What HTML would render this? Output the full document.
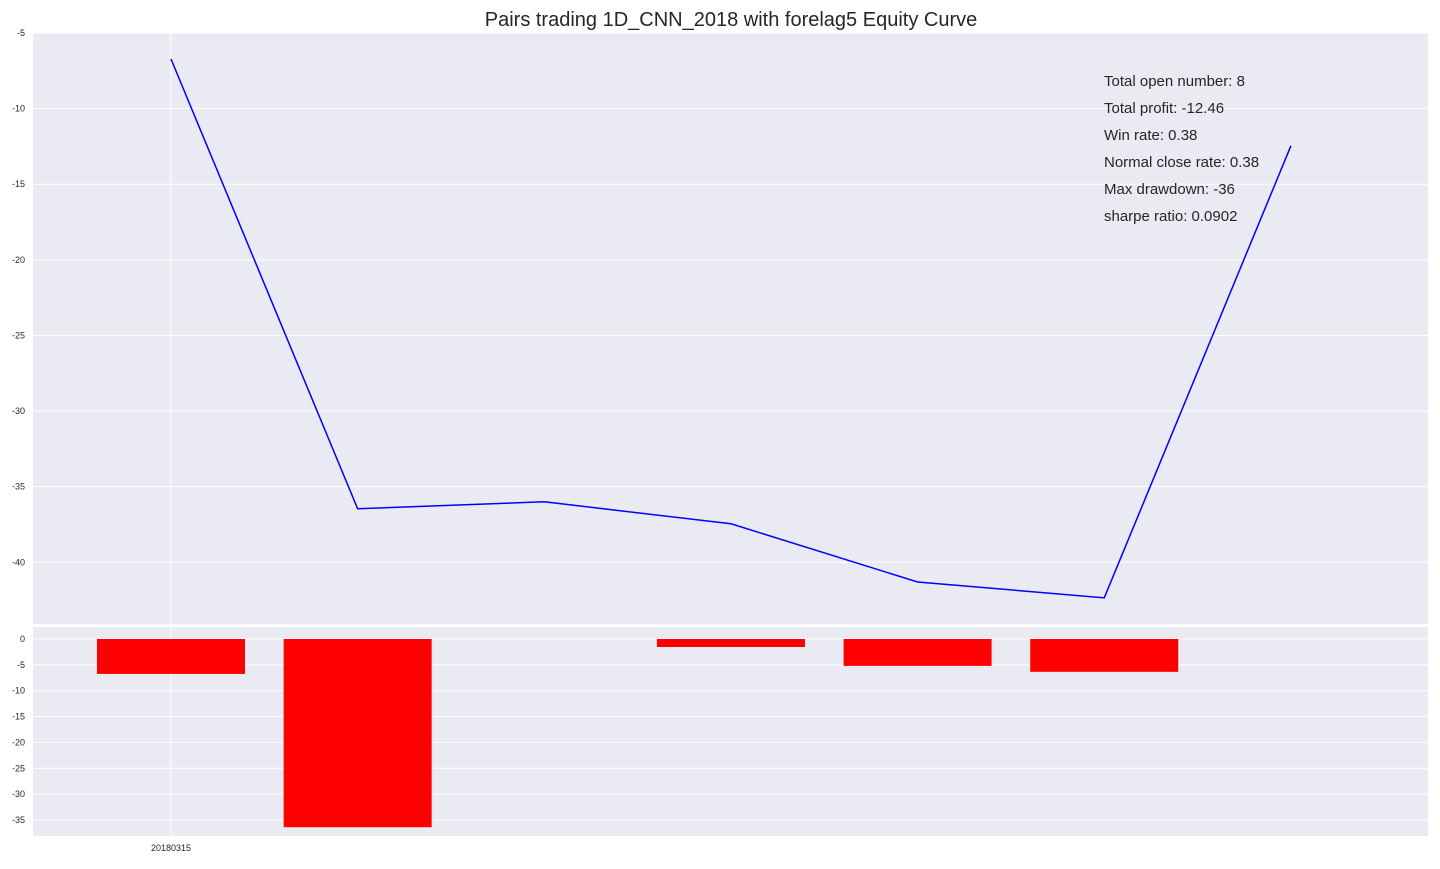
<!DOCTYPE html>
<html><head><meta charset="utf-8"><style>
body{margin:0;background:#fff;font-family:"Liberation Sans",sans-serif;}
svg text{font-family:"Liberation Sans",sans-serif;}
</style></head><body>
<svg id="c" width="1440" height="864"></svg>
<script>
const categories=["20180315","2","3","4","5","6","7"];
const equity=[-6.72,-36.46,-36.0,-37.45,-41.3,-42.35,-12.46];
const profits=[-6.75,-36.4,0,-1.55,-5.2,-6.35,0];
const topTicks=[-5,-10,-15,-20,-25,-30,-35,-40];
const botTicks=[0,-5,-10,-15,-20,-25,-30,-35];
const stats=["Total open number: 8","Total profit: -12.46","Win rate: 0.38","Normal close rate: 0.38","Max drawdown: -36","sharpe ratio: 0.0902"];
const NS="http://www.w3.org/2000/svg";
const svg=document.getElementById('c');
function mk(t,a,p){const e=document.createElementNS(NS,t);for(const k in a)e.setAttribute(k,a[k]);(p||svg).appendChild(e);return e;}
const L=33,R=1428;
const x=i=>171+i*186.65;
const T={top:33,bot:624,max:-5,min:-44.08};
const B={top:627,bot:836,max:2.32,min:-38.1};
const yT=v=>T.top+(T.max-v)/(T.max-T.min)*(T.bot-T.top);
const yB=v=>B.top+(B.max-v)/(B.max-B.min)*(B.bot-B.top);
let t=mk('text',{x:731,y:26,'text-anchor':'middle','font-size':20,fill:'#262626'});t.textContent="Pairs trading 1D_CNN_2018 with forelag5 Equity Curve";


let bg=mk('rect',{x:L,y:T.top,width:R-L,height:T.bot-T.top,fill:'#eaeaf2'});


topTicks.forEach(v=>{mk('line',{x1:L,x2:R,y1:yT(v),y2:yT(v),stroke:'#fff','stroke-width':1});
 const l=mk('text',{x:25,y:yT(v)+3,'text-anchor':'end','font-size':9,fill:'#262626'});l.textContent=v;
 
 });
mk('line',{x1:x(0),x2:x(0),y1:T.top,y2:T.bot,stroke:'#fff'});
const pts=equity.map((v,i)=>x(i)+','+yT(v)).join(' ');
const pl=mk('polyline',{points:pts,fill:'none',stroke:'#0000ff','stroke-width':1.5});


stats.forEach((s,i)=>{const e=mk('text',{x:1104,y:86+i*27,'font-size':15,fill:'#262626'});e.textContent=s;
 
 });
let bg2=mk('rect',{x:L,y:B.top,width:R-L,height:B.bot-B.top,fill:'#eaeaf2'});


botTicks.forEach(v=>{mk('line',{x1:L,x2:R,y1:yB(v),y2:yB(v),stroke:'#fff'});
 const l=mk('text',{x:25,y:yB(v)+3,'text-anchor':'end','font-size':9,fill:'#262626'});l.textContent=v;
 
 });
mk('line',{x1:x(0),x2:x(0),y1:B.top,y2:B.bot,stroke:'#fff'});
profits.forEach((v,i)=>{const y0=yB(0),y1=yB(v);
 const r=mk('rect',{x:x(i)-74,y:Math.min(y0,y1),width:148,height:Math.abs(y1-y0),fill:'#ff0000'});
 
 });
const xl=mk('text',{x:x(0),y:851,'text-anchor':'middle','font-size':9,fill:'#262626'});xl.textContent=categories[0];


</script></body></html>
